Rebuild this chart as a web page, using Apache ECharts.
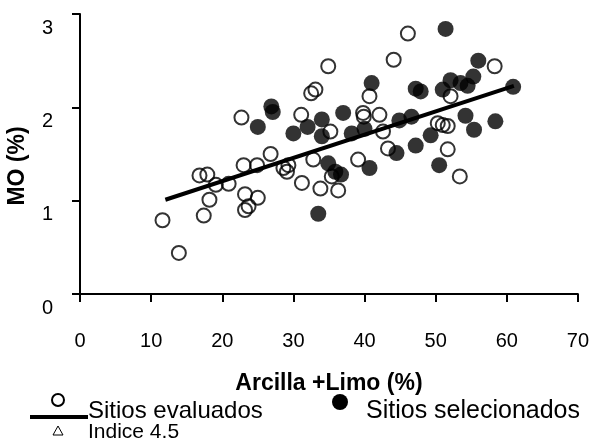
<!DOCTYPE html>
<html>
<head>
<meta charset="utf-8">
<script src="https://cdn.jsdelivr.net/npm/echarts@6/dist/echarts.min.js"></script>
<style>
  html, body { margin: 0; padding: 0; background: #fff; }
  #chart { width: 592px; height: 442px; }
</style>
</head>
<body>
<div id="chart"></div>
<script>
// Arcilla + Limo (%) vs MO (%)
var evaluadosX = [11.6, 13.9, 17.4, 18.2, 16.8, 17.9, 19.1, 20.9, 23.2, 25.0, 23.2, 23.7, 28.6, 29.1, 32.5,
    33.1, 22.7, 31.1, 35.2, 26.8, 23.0, 24.9, 29.3, 32.8, 35.4, 39.1, 31.2, 33.8, 36.3, 44.1,
    34.9, 40.7, 39.8, 39.9, 42.1, 42.6, 50.3, 51.0, 51.7, 43.3, 52.1, 58.3, 51.7, 53.4, 46.1];
var evaluadosY = [0.79, 0.44, 0.84, 1.01, 1.27, 1.28, 1.17, 1.18, 1.07, 1.03, 0.90, 0.94, 1.35, 1.31, 2.15,
    2.19, 1.89, 1.92, 1.74, 1.50, 1.38, 1.38, 1.38, 1.44, 1.26, 1.44, 1.19, 1.13, 1.11, 2.51,
    2.44, 2.12, 1.94, 1.90, 1.92, 1.74, 1.83, 1.81, 1.80, 1.56, 2.12, 2.44, 1.55, 1.26, 2.79];

var selecX = [26.9, 27.1, 25.0, 32.0, 34.0, 30.0, 34.0, 37.0, 38.2, 34.9, 35.9, 36.7, 41.0, 47.2, 47.9,
    40.0, 44.9, 46.6, 49.3, 47.2, 44.5, 40.7, 50.5, 33.5, 51.4, 56.0, 55.3, 52.1, 53.5, 54.5,
    51.0, 60.9, 54.2, 58.4, 55.4];
var selecY = [2.01, 1.95, 1.79, 1.79, 1.87, 1.72, 1.69, 1.94, 1.72, 1.40, 1.31, 1.28, 2.26, 2.20, 2.17,
    1.77, 1.86, 1.90, 1.70, 1.59, 1.51, 1.35, 1.38, 0.86, 2.84, 2.50, 2.33, 2.29, 2.26, 2.23,
    2.19, 2.22, 1.91, 1.85, 1.76];

// linea de tendencia (extremos)
var tendenciaX = [12, 61];
var tendenciaY = [1.01, 2.23];

var xTicks = [0, 10, 20, 30, 40, 50, 60, 70];
var yTicks = [0, 1, 2, 3];

function zip(xs, ys) {
    var out = [];
    for (var i = 0; i < xs.length; i++) {
        out.push([xs[i], ys[i]]);
    }
    return out;
}

var FONT = '"Liberation Sans", Arial, sans-serif';
var chart = echarts.init(document.getElementById('chart'));

var option = {
    animation: false,
    backgroundColor: '#fff',
    grid: { left: 80, right: 11, top: 14, bottom: 148, containLabel: false },
    xAxis: {
        type: 'value',
        min: xTicks[0],
        max: xTicks[xTicks.length - 1],
        interval: 10,
        splitLine: { show: false },
        axisLine: { lineStyle: { color: '#000', width: 2 } },
        axisTick: { length: 8, lineStyle: { color: '#000', width: 2 } },
        axisLabel: { margin: 37, color: '#000', fontSize: 20, fontFamily: FONT },
        name: 'Arcilla +Limo (%)',
        nameLocation: 'middle',
        nameGap: 78,
        nameTextStyle: { color: '#000', fontSize: 23, fontWeight: 'bold', fontFamily: FONT }
    },
    yAxis: {
        type: 'value',
        min: yTicks[0],
        max: yTicks[yTicks.length - 1],
        interval: 1,
        splitLine: { show: false },
        axisLine: { lineStyle: { color: '#000', width: 2 } },
        axisTick: { length: 8, lineStyle: { color: '#000', width: 2 } },
        axisLabel: { margin: 27, color: '#000', fontSize: 20, fontFamily: FONT, verticalAlign: 'top', padding: [4, 0, 0, 0] }
    },
    series: [
        {
            name: 'Sitios evaluados',
            type: 'scatter',
            data: zip(evaluadosX, evaluadosY),
            symbol: 'circle',
            symbolSize: 14,
            itemStyle: { color: 'rgba(0,0,0,0)', borderColor: '#000', borderWidth: 2 },
            emphasis: { disabled: true },
            z: 2
        },
        {
            name: 'tendencia',
            type: 'line',
            data: zip(tendenciaX, tendenciaY),
            showSymbol: false,
            lineStyle: { color: '#000', width: 4 },
            emphasis: { disabled: true },
            z: 3
        },
        {
            name: 'Sitios selecionados',
            type: 'scatter',
            data: zip(selecX, selecY),
            symbol: 'circle',
            symbolSize: 16,
            itemStyle: { color: '#000' },
            emphasis: { disabled: true },
            z: 4
        }
    ],
    graphic: [
        // titulo eje Y
        { type: 'text', x: 18, y: 166, rotation: Math.PI / 2,
          style: { text: 'MO (%)', fontSize: 23, fontWeight: 'bold', fontFamily: FONT, fill: '#000', align: 'center', verticalAlign: 'middle' } },
        // leyenda
        { type: 'circle', shape: { cx: 58, cy: 400, r: 6 }, style: { fill: 'none', stroke: '#000', lineWidth: 2 } },
        { type: 'line', shape: { x1: 30, y1: 417, x2: 88, y2: 417 }, style: { stroke: '#000', lineWidth: 4 } },
        { type: 'text', x: 88, y: 411, style: { text: 'Sitios evaluados', fontSize: 24, fontFamily: FONT, fill: '#000', verticalAlign: 'middle' } },
        { type: 'polygon', shape: { points: [[58, 426], [53, 435], [63, 435]] }, style: { fill: 'none', stroke: '#000', lineWidth: 1 } },
        { type: 'text', x: 88, y: 432, style: { text: 'Indice 4.5', fontSize: 21, fontFamily: FONT, fill: '#000', verticalAlign: 'middle' } },
        { type: 'circle', shape: { cx: 340, cy: 402, r: 8 }, style: { fill: '#000' } },
        { type: 'text', x: 366, y: 411, style: { text: 'Sitios selecionados', fontSize: 25, fontFamily: FONT, fill: '#000', verticalAlign: 'middle' } }
    ]
};

chart.setOption(option);
</script>
</body>
</html>
